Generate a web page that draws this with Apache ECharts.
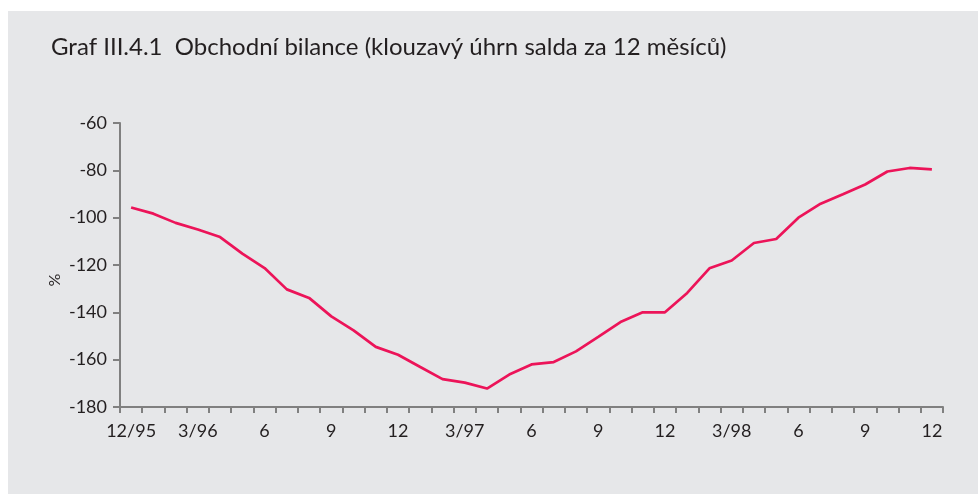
<!DOCTYPE html>
<html>
<head>
<meta charset="utf-8">
<title>Graf III.4.1</title>
<script src="https://cdn.jsdelivr.net/npm/echarts@6/dist/echarts.min.js"></script>
<style>
  html, body { margin: 0; padding: 0; background: #ffffff; }
  #chart {
    position: absolute;
    left: 8px;
    top: 11px;
    width: 970px;
    height: 483px;
  }
</style>
</head>
<body>
<div id="chart"></div>
<script>
// měsíce 12/95 .. 12/98
var months = [
  '12/95', '1/96', '2/96', '3/96', '4/96', '5/96', '6/96', '7/96', '8/96', '9/96', '10/96', '11/96', '12/96',
  '1/97', '2/97', '3/97', '4/97', '5/97', '6/97', '7/97', '8/97', '9/97', '10/97', '11/97', '12/97',
  '1/98', '2/98', '3/98', '4/98', '5/98', '6/98', '7/98', '8/98', '9/98', '10/98', '11/98', '12/98'
]

// popisky osy x (každý třetí měsíc)
var tickLabels = ['12/95', '3/96', '6', '9', '12', '3/97', '6', '9', '12', '3/98', '6', '9', '12']

// klouzavý úhrn salda obchodní bilance
var saldo = [
  -95.7, -98.3, -102.2, -105.0, -108.2, -115.2, -121.3, -130.3, -133.9, -141.7, -147.6, -154.6, -157.9,
  -163.1, -168.2, -169.7, -172.2, -166.3, -162.0, -161.0, -156.5, -150.4, -144.1, -140.0, -140.0,
  -131.8, -121.4, -118.1, -110.7, -109.0, -100.0, -94.1, -90.1, -86.0, -80.5, -79.0, -79.6
]

var yTicks = { min: -180, max: -60, step: 20 }

var textFont = 'Lato'
var axisColor = '#808080'

var chart = echarts.init(document.getElementById('chart'))

chart.setOption({
  backgroundColor: '#e6e7e9',
  animation: false,
  title: {
    text: 'Graf III.4.1  Obchodní bilance (klouzavý úhrn salda za 12 měsíců)',
    left: 38,
    top: 19,
    textStyle: {
      fontFamily: textFont,
      fontWeight: 'normal',
      fontSize: 24,
      color: '#231f20'
    }
  },
  grid: {
    left: 112,
    right: 35,
    top: 112,
    bottom: 87
  },
  xAxis: {
    type: 'category',
    data: months,
    boundaryGap: true,
    axisLine: { lineStyle: { color: axisColor, width: 2 } },
    axisTick: {
      show: true,
      length: 6,
      interval: 0,
      lineStyle: { color: axisColor, width: 2 }
    },
    axisLabel: {
      interval: 2,
      margin: 15,
      fontFamily: textFont,
      fontSize: 18,
      color: '#231f20',
      formatter: function (v, i) { return tickLabels[i / 3] }
    },
    splitLine: { show: false }
  },
  yAxis: {
    type: 'value',
    min: yTicks.min,
    max: yTicks.max,
    interval: yTicks.step,
    name: '%',
    nameLocation: 'middle',
    nameRotate: 90,
    nameGap: 57,
    nameMoveOverlap: false,
    nameTextStyle: {
      fontFamily: textFont,
      fontSize: 16,
      color: '#231f20',
      padding: [0, 30, 0, 0]
    },
    axisLine: { show: true, lineStyle: { color: axisColor, width: 2 } },
    axisTick: {
      show: true,
      length: 7,
      lineStyle: { color: axisColor, width: 2 }
    },
    axisLabel: {
      margin: 13,
      fontFamily: textFont,
      fontSize: 18,
      color: '#231f20'
    },
    splitLine: { show: false }
  },
  series: [{
    type: 'line',
    data: saldo,
    showSymbol: false,
    symbol: 'none',
    lineStyle: { color: '#ec1459', width: 2.7 }
  }]
})
</script>
</body>
</html>
